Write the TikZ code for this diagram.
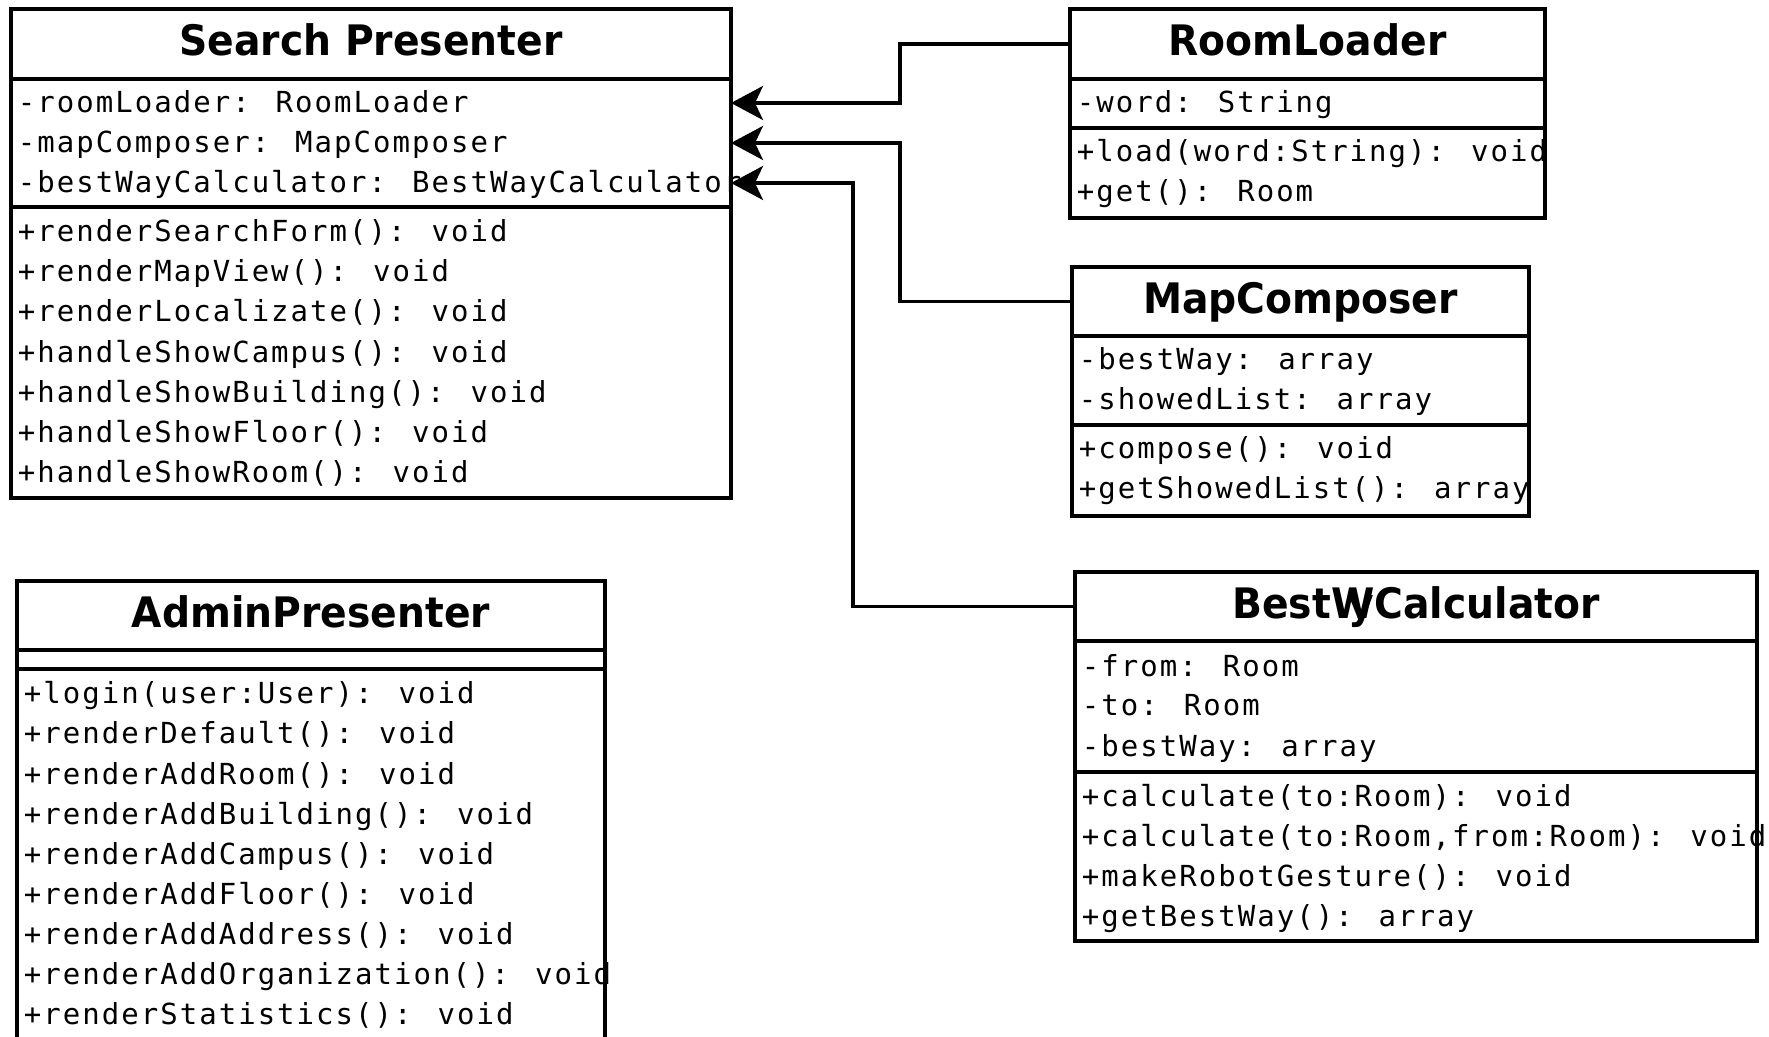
\documentclass[tikz,border=0pt]{standalone}
\usepackage{fontspec}
\usetikzlibrary{arrows.meta}
% member lines: monospaced with slight tracking; class names: bold sans
\newfontfamily\memfont{DejaVu Sans Mono}[LetterSpace=7.0]
\newfontfamily\clsfont{DejaVu Sans}[FakeStretch=0.935]

\tikzset{
  sect/.style={draw=black, fill=white, line width=1.8pt, rectangle,
    inner sep=0pt, outer sep=0pt, anchor=north west},
  clsname/.style={anchor=base, inner sep=0pt,
    font=\clsfont\bfseries\fontsize{21pt}{24pt}\selectfont},
  member/.style={anchor=base west, inner sep=0pt,
    font=\memfont\fontsize{14.5pt}{17pt}\selectfont},
  assoc/.style={line width=1.8pt, line join=miter,
    -{Stealth[length=16pt,width=17pt,inset=4pt]}}
}

% one compartment of a class box: name, x1, y1, x2, y2 (pixel units)
\newcommand\umlbox[5]{%
  \node[sect, minimum width={(#4-#2)*0.5pt}, minimum height={(#5-#3)*0.5pt}]
    (#1) at (#2,#3) {};}

\begin{document}
\begin{tikzpicture}[x=0.5pt, y=-0.5pt]
\useasboundingbox (0,0) rectangle (1769,1037);
\clip (0,0) rectangle (1769,1037);
\fill[white] (0,0) rectangle (1769,1037);

% ---------- Search Presenter ----------
\umlbox{spT}{11}{9}{731}{79}
\umlbox{spA}{11}{79}{731}{207}
\umlbox{spM}{11}{207}{731}{498}
\node[clsname] (spN) at (371,56) {Search Presenter};
\node[member] (spa1) at (17.5,113) {-roomLoader: RoomLoader};
\node[member] (spa2) at (17.5,153) {-mapComposer: MapComposer};
\node[member] (spa3) at (17.5,193) {-bestWayCalculator: BestWayCalculator};
\node[member] (spm1) at (17.5,242) {+renderSearchForm(): void};
\node[member] (spm2) at (17.5,282) {+renderMapView(): void};
\node[member] (spm3) at (17.5,322) {+renderLocalizate(): void};
\node[member] (spm4) at (17.5,363) {+handleShowCampus(): void};
\node[member] (spm5) at (17.5,403) {+handleShowBuilding(): void};
\node[member] (spm6) at (17.5,443) {+handleShowFloor(): void};
\node[member] (spm7) at (17.5,483) {+handleShowRoom(): void};

% ---------- RoomLoader ----------
\umlbox{rlT}{1070}{9}{1545}{79}
\umlbox{rlA}{1070}{79}{1545}{128}
\umlbox{rlM}{1070}{128}{1545}{218}
\node[clsname] (rlN) at (1307.5,55.5) {RoomLoader};
\node[member] (rla1) at (1076.5,113) {-word: String};
\node[member] (rlm1) at (1076.5,162) {+load(word:String): void};
\node[member] (rlm2) at (1076.5,202) {+get(): Room};

% ---------- MapComposer ----------
\umlbox{mcT}{1072}{267}{1529}{336}
\umlbox{mcA}{1072}{336}{1529}{425}
\umlbox{mcM}{1072}{425}{1529}{516}
\node[clsname] (mcN) at (1300.5,314) {MapComposer};
\node[member] (mca1) at (1078.5,370) {-bestWay: array};
\node[member] (mca2) at (1078.5,410) {-showedList: array};
\node[member] (mcm1) at (1078.5,459) {+compose(): void};
\node[member] (mcm2) at (1078.5,499) {+getShowedList(): array};

% ---------- BestWayCalculator ----------
\umlbox{bwT}{1075}{572}{1757}{641}
\umlbox{bwA}{1075}{641}{1757}{772}
\umlbox{bwM}{1075}{772}{1757}{941}
\node[clsname] (bwN) at (1416,619) {BestW\llap{y}Calculator};
\node[member] (bwa1) at (1081.5,676) {-from: Room};
\node[member] (bwa2) at (1081.5,716) {-to: Room};
\node[member] (bwa3) at (1081.5,756) {-bestWay: array};
\node[member] (bwm1) at (1081.5,806) {+calculate(to:Room): void};
\node[member] (bwm2) at (1081.5,846) {+calculate(to:Room,from:Room): void};
\node[member] (bwm3) at (1081.5,886) {+makeRobotGesture(): void};
\node[member] (bwm4) at (1081.5,926) {+getBestWay(): array};

% ---------- AdminPresenter ----------
\umlbox{apT}{17}{581}{605}{650}
\umlbox{apA}{17}{650}{605}{669}
\umlbox{apM}{17}{669}{605}{1047}
\node[clsname] (apN) at (311,628) {AdminPresenter};
\node[member] (apm1) at (23.5,704) {+login(user:User): void};
\node[member] (apm2) at (23.5,744) {+renderDefault(): void};
\node[member] (apm3) at (23.5,784) {+renderAddRoom(): void};
\node[member] (apm4) at (23.5,824) {+renderAddBuilding(): void};
\node[member] (apm5) at (23.5,864) {+renderAddCampus(): void};
\node[member] (apm6) at (23.5,904) {+renderAddFloor(): void};
\node[member] (apm7) at (23.5,944) {+renderAddAddress(): void};
\node[member] (apm8) at (23.5,984) {+renderAddOrganization(): void};
\node[member] (apm9) at (23.5,1024) {+renderStatistics(): void};

% ---------- associations into Search Presenter ----------
\coordinate (in1) at (731,103);
\coordinate (in2) at (731,143);
\coordinate (in3) at (731,183);
\coordinate (k1) at (900,103);
\coordinate (k2) at (900,143);
\coordinate (k3) at (853,183);
\draw[assoc] (rlT.west) -| (k1) -- (in1);
\draw[assoc] (mcT.west) -| (k2) -- (in2);
\draw[assoc] (bwT.west) -| (k3) -- (in3);
\end{tikzpicture}
\end{document}
